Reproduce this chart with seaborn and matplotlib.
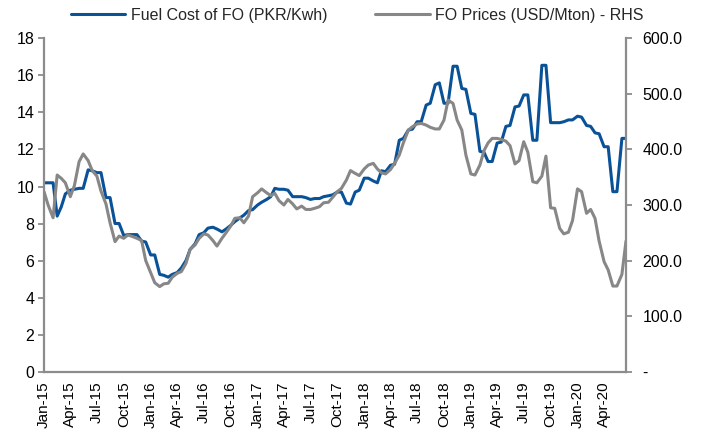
import pandas as pd
import matplotlib
matplotlib.use('Agg')
import matplotlib.pyplot as plt
import matplotlib.dates as mdates
from matplotlib.ticker import FuncFormatter, MultipleLocator
import seaborn as sns

# semi-monthly observations, Jan-15 .. Jul-20
dates = pd.date_range('2015-01-01', periods=132, freq='SMS')

fuel_cost = [
    10.2, 10.2, 10.2, 8.4, 8.9, 9.6, 9.8, 9.85, 9.9, 9.9,
    10.9, 10.85, 10.75, 10.75, 9.4, 9.4, 8.0, 8.0, 7.35, 7.4,
    7.4, 7.4, 7.05, 7.0, 6.3, 6.3, 5.25, 5.2, 5.1, 5.25,
    5.35, 5.6, 6.0, 6.6, 6.9, 7.4, 7.5, 7.75, 7.8, 7.7,
    7.55, 7.7, 7.9, 8.1, 8.3, 8.45, 8.7, 8.75, 9.0, 9.15,
    9.3, 9.45, 9.9, 9.85, 9.85, 9.8, 9.45, 9.45, 9.45, 9.4,
    9.3, 9.35, 9.35, 9.45, 9.5, 9.55, 9.7, 9.7, 9.1, 9.05,
    9.7, 9.8, 10.45, 10.45, 10.3, 10.2, 10.85, 10.8, 11.15, 11.2,
    12.5, 12.6, 13.05, 13.1, 13.5, 13.5, 14.4, 14.5, 15.5, 15.6,
    14.5, 14.5, 16.5, 16.5, 15.3, 15.25, 13.95, 13.9, 11.9, 11.85,
    11.35, 11.35, 12.35, 12.4, 13.25, 13.3, 14.3, 14.35, 14.95, 14.95,
    12.5, 12.5, 16.55, 16.55, 13.45, 13.45, 13.45, 13.5, 13.6, 13.6,
    13.8, 13.75, 13.3, 13.25, 12.9, 12.85, 12.15, 12.15, 9.72, 9.72,
    12.6, 12.6,
]

fo_price = [
    324, 300, 277, 354, 348, 340, 315, 335, 378, 392,
    380, 362, 352, 325, 302, 268, 234, 244, 240, 246,
    243, 240, 236, 200, 178, 160, 153, 158, 159, 170,
    177, 180, 195, 220, 228, 240, 248, 246, 236, 226,
    240, 250, 262, 276, 277, 268, 280, 315, 322, 329,
    322, 317, 321, 308, 300, 310, 302, 293, 298, 292,
    292, 294, 297, 304, 305, 314, 324, 330, 345, 362,
    357, 353, 365, 372, 375, 365, 358, 356, 364, 375,
    390, 412, 435, 441, 446, 447, 444, 440, 437, 437,
    453, 489, 483, 453, 435, 390, 356, 354, 372, 398,
    412, 420, 420, 418, 415, 407, 374, 380, 414, 395,
    342, 340, 352, 388, 295, 294, 258, 248, 251, 272,
    329, 324, 285, 292, 276, 235, 198, 183, 154, 154,
    175, 235,
]

label_cost = 'Fuel Cost of FO (PKR/Kwh)'
label_price = 'FO Prices (USD/Mton) - RHS'

sns.set_style('white')
plt.rcParams['font.family'] = ['Liberation Sans', 'DejaVu Sans']

blue = '#0a5298'
gray = '#878787'
axis_gray = '#8c8c8c'

fig = plt.figure(figsize=(7.01, 4.30), dpi=100)
ax = fig.add_axes([0.0628, 0.136, 0.8302, 0.7745])
ax2 = ax.twinx()

sns.lineplot(x=dates, y=fuel_cost, ax=ax, color=blue, linewidth=2.2, label=label_cost, legend=False)
sns.lineplot(x=dates, y=fo_price, ax=ax2, color=gray, linewidth=2.2, label=label_price, legend=False)

ax.set_xlim(dates[0], dates[-1])
ax.set_ylim(0, 18)
ax.yaxis.set_major_locator(MultipleLocator(2))
ax2.set_ylim(0, 600)
ax2.yaxis.set_major_locator(MultipleLocator(100))
ax2.yaxis.set_major_formatter(FuncFormatter(lambda v, p: '-' if v == 0 else f'{v:.1f}'))

ax.xaxis.set_major_locator(mdates.MonthLocator(bymonth=[1, 4, 7, 10]))
ax.xaxis.set_major_formatter(mdates.DateFormatter('%b-%y'))
for lbl in ax.get_xticklabels():
    lbl.set_rotation(90)

for a in (ax, ax2):
    a.set_xlabel('')
    a.set_ylabel('')
    a.grid(False)
    for side in ['top']:
        a.spines[side].set_visible(False)
    for side in ['left', 'right', 'bottom']:
        a.spines[side].set_color(axis_gray)
        a.spines[side].set_linewidth(1.6)
    a.tick_params(direction='out', length=4, width=1.3, color=axis_gray,
                  labelsize=11.5, labelcolor='black', pad=3)
ax.spines['right'].set_visible(False)
ax2.spines['left'].set_visible(False)
ax2.spines['bottom'].set_visible(False)
ax.tick_params(axis='x', labelsize=11, pad=3)
ax2.tick_params(axis='y', pad=8)

h1, l1 = ax.get_legend_handles_labels()
h2, l2 = ax2.get_legend_handles_labels()
fig.legend(h1 + h2, l1 + l2, loc='center', bbox_to_anchor=(0.51, 0.965), ncol=2,
           frameon=False, fontsize=11.5, handlelength=3.4, columnspacing=3.0,
           handletextpad=0.35)

fig.savefig('out.png', dpi=100)
